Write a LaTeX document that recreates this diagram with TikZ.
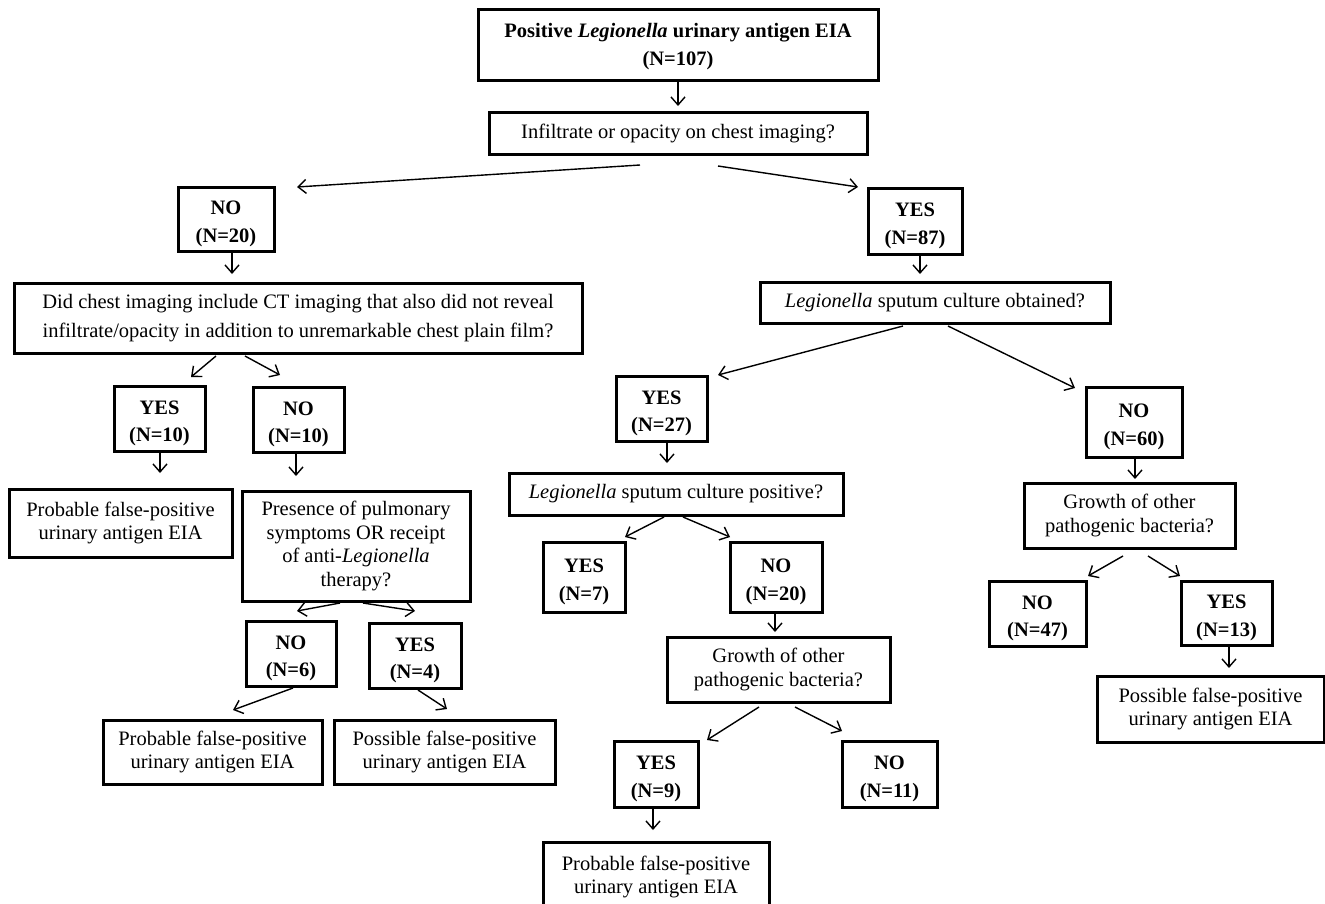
\documentclass[tikz,border=0pt]{standalone}
\usepackage{fontspec}
\setmainfont{Liberation Serif}
\usetikzlibrary{arrows.meta}
\tikzset{
  box/.style={draw=black, line width=3pt, inner sep=0pt, outer sep=0pt, align=center,
    font=\fontsize{20.5}{23.5}\selectfont},
  bbox/.style={box, text depth=0pt, text height=46pt, font=\fontsize{20.5}{27.5}\selectfont\bfseries},
  topbox/.style={box, text depth=0pt, font=\fontsize{20.5}{28}\selectfont\bfseries},
  widebox/.style={box, font=\fontsize{20.5}{28.5}\selectfont},
  arr/.style={line width=1.4pt, -{Straight Barb[length=8pt,width=14pt,line width=1.4pt]}}
}
\newcommand{\bx}[7]{\node[#1, minimum width=#4, minimum height=#5] (#2) at (#6,#7) {#3};}
\begin{document}
\begin{tikzpicture}[x=1pt,y=-1pt]
\useasboundingbox (0,0) rectangle (1325,903);
\clip (0,0) rectangle (1325,903);
% nodes
\bx{topbox}{top}{Positive \textit{Legionella} urinary antigen EIA\\(N=107)}{400pt}{71pt}{678}{44.5}
\bx{box}{infil}{Infiltrate or opacity on chest imaging?}{378pt}{42pt}{678}{133}
\bx{bbox}{noA}{NO\\(N=20)}{96pt}{64pt}{226}{219}
\bx{widebox}{didct}{Did chest imaging include CT imaging that also did not reveal\\infiltrate/opacity in addition to unremarkable chest plain film?}{568pt}{70pt}{298}{318}
\bx{bbox}{yesB}{YES\\(N=10)}{91pt}{65pt}{159.5}{418.5}
\bx{bbox}{noB}{NO\\(N=10)}{91pt}{65pt}{298.5}{419.5}
\bx{box}{probA}{Probable false-positive\\urinary antigen EIA}{223pt}{68pt}{120.5}{523}
\bx{box}{pres}{Presence of pulmonary\\symptoms OR receipt\\of anti-\textit{Legionella}\\therapy?}{228pt}{110pt}{356}{546}
\bx{bbox}{noC}{NO\\(N=6)}{90pt}{65pt}{291}{653.5}
\bx{bbox}{yesC}{YES\\(N=4)}{92pt}{65pt}{415}{655.5}
\bx{box}{probB}{Probable false-positive\\urinary antigen EIA}{219pt}{64pt}{212.5}{752}
\bx{box}{possB}{Possible false-positive\\urinary antigen EIA}{221pt}{64pt}{444.5}{752}
\bx{bbox}{yesD}{YES\\(N=87)}{94pt}{66pt}{915}{221}
\bx{box}{sput}{\textit{Legionella} sputum culture obtained?}{350pt}{41pt}{935}{302.5}
\bx{bbox}{yesE}{YES\\(N=27)}{91pt}{65pt}{661.5}{408.5}
\bx{box}{sputpos}{\textit{Legionella} sputum culture positive?}{334pt}{42pt}{676}{494}
\bx{bbox}{yesF}{YES\\(N=7)}{82pt}{70pt}{584}{577}
\bx{bbox}{noF}{NO\\(N=20)}{92pt}{70pt}{776}{577}
\bx{box}{growA}{Growth of other\\pathogenic bacteria?}{223pt}{65pt}{778.5}{669.5}
\bx{bbox}{yesG}{YES\\(N=9)}{84pt}{66pt}{656}{774}
\bx{bbox}{noG}{NO\\(N=11)}{95pt}{66pt}{889.5}{774}
\bx{box}{probC}{Probable false-positive\\urinary antigen EIA}{226pt}{70pt}{656}{877}
\bx{bbox}{noH}{NO\\(N=60)}{96pt}{70pt}{1134}{422}
\bx{box}{growB}{Growth of other\\pathogenic bacteria?}{211pt}{65pt}{1129.5}{515.5}
\bx{bbox}{noI}{NO\\(N=47)}{97pt}{65pt}{1037.5}{613.5}
\bx{bbox}{yesI}{YES\\(N=13)}{91pt}{64pt}{1226.5}{613}
\bx{box}{possC}{Possible false-positive\\urinary antigen EIA}{227pt}{66pt}{1210.5}{709}
% connectors
\draw[arr] ([shift={(0,2)}]top.south) -- ([shift={(0,-6)}]infil.north);
\draw[arr] ([shift={(-38,11)}]infil.south) -- ([shift={(71,0)}]noA.north);
\draw[arr] ([shift={(40,12)}]infil.south) -- ([shift={(-57,-1)}]yesD.north);
\draw[arr] ([shift={(6,2)}]noA.south) -- ([shift={(-66,-9)}]didct.north);
\draw[arr] ([shift={(-82,3)}]didct.south) -- ([shift={(31.5,-9)}]yesB.north);
\draw[arr] ([shift={(-53,3)}]didct.south) -- ([shift={(-18.5,-12)}]noB.north);
\draw[arr] ([shift={(0.5,2)}]yesB.south) -- ([shift={(39.5,-16)}]probA.north);
\draw[arr] ([shift={(-2.5,2)}]noB.south) -- ([shift={(-60,-15)}]pres.north);
\draw[arr] ([shift={(-16,2)}]pres.south) -- ([shift={(6,-10)}]noC.north);
\draw[arr] ([shift={(7,2)}]pres.south) -- ([shift={(0,-12)}]yesC.north);
\draw[arr] ([shift={(2,2)}]noC.south) -- ([shift={(20.5,-10)}]probB.north);
\draw[arr] ([shift={(3,2)}]yesC.south) -- ([shift={(2.5,-11)}]possB.north);
\draw[arr] ([shift={(5,2)}]yesD.south) -- ([shift={(-15,-8)}]sput.north);
\draw[arr] ([shift={(-32,3)}]sput.south) -- ([shift={(56.5,-1)}]yesE.north);
\draw[arr] ([shift={(13,3)}]sput.south) -- ([shift={(-59,1)}]noH.north);
\draw[arr] ([shift={(5.5,2)}]yesE.south) -- ([shift={(-9,-10)}]sputpos.north);
\draw[arr] ([shift={(-12,2)}]sputpos.south) -- ([shift={(41,-5)}]yesF.north);
\draw[arr] ([shift={(7,2)}]sputpos.south) -- ([shift={(-46,-5)}]noF.north);
\draw[arr] ([shift={(-1,2)}]noF.south) -- ([shift={(-3.5,-5)}]growA.north);
\draw[arr] ([shift={(-19.5,5)}]growA.south) -- ([shift={(51,-1)}]yesG.north);
\draw[arr] ([shift={(16.5,5)}]growA.south) -- ([shift={(-47.5,-10)}]noG.north);
\draw[arr] ([shift={(-3,2)}]yesG.south) -- ([shift={(-3,-12)}]probC.north);
\draw[arr] ([shift={(1,2)}]noH.south) -- ([shift={(5.5,-4)}]growB.north);
\draw[arr] ([shift={(-6.5,8)}]growB.south) -- ([shift={(50.5,-5)}]noI.north);
\draw[arr] ([shift={(18.5,8)}]growB.south) -- ([shift={(-46.5,-5)}]yesI.north);
\draw[arr] ([shift={(2.5,2)}]yesI.south) -- ([shift={(18.5,-8)}]possC.north);
\end{tikzpicture}
\end{document}
